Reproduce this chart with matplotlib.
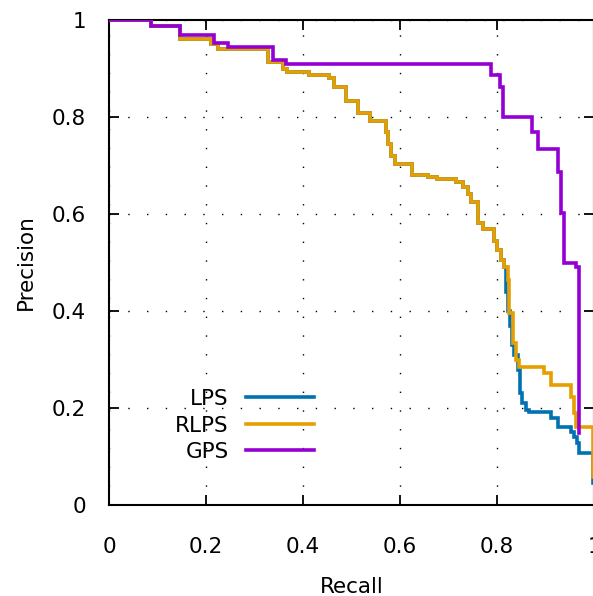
import matplotlib
matplotlib.use("Agg")
import matplotlib.pyplot as plt
from matplotlib.lines import Line2D

# precision/recall curves (step corners, steps-post)
lps_recall = [0, 0.087, 0.146, 0.210, 0.225, 0.327, 0.358, 0.368, 0.413, 0.454,
              0.464, 0.489, 0.513, 0.539, 0.571, 0.576, 0.582, 0.590, 0.625, 0.657,
              0.677, 0.715, 0.729, 0.740, 0.746, 0.760, 0.772, 0.794, 0.801, 0.808,
              0.815, 0.818, 0.822, 0.826, 0.830, 0.836, 0.843, 0.847, 0.852, 0.860,
              0.867, 0.911, 0.925, 0.953, 0.958, 0.964, 0.970, 0.997]
lps_precision = [1.0, 0.988, 0.960, 0.950, 0.940, 0.914, 0.900, 0.893, 0.887, 0.880,
                 0.861, 0.834, 0.809, 0.792, 0.770, 0.745, 0.720, 0.703, 0.680, 0.677,
                 0.673, 0.667, 0.656, 0.642, 0.625, 0.581, 0.570, 0.545, 0.526, 0.505,
                 0.490, 0.440, 0.400, 0.370, 0.330, 0.310, 0.278, 0.230, 0.210, 0.196,
                 0.192, 0.180, 0.161, 0.150, 0.140, 0.128, 0.107, 0.045]

rlps_recall = [0, 0.087, 0.146, 0.210, 0.225, 0.327, 0.358, 0.368, 0.413, 0.454,
               0.464, 0.489, 0.513, 0.539, 0.571, 0.576, 0.582, 0.590, 0.625, 0.657,
               0.677, 0.715, 0.729, 0.740, 0.746, 0.760, 0.772, 0.794, 0.801, 0.808,
               0.815, 0.822, 0.825, 0.832, 0.839, 0.846, 0.897, 0.911, 0.952, 0.958,
               0.963, 0.997]
rlps_precision = [1.0, 0.988, 0.960, 0.950, 0.940, 0.914, 0.900, 0.893, 0.887, 0.880,
                  0.861, 0.834, 0.809, 0.792, 0.770, 0.745, 0.720, 0.703, 0.680, 0.677,
                  0.673, 0.667, 0.656, 0.642, 0.625, 0.581, 0.570, 0.545, 0.526, 0.505,
                  0.490, 0.464, 0.396, 0.334, 0.299, 0.285, 0.272, 0.247, 0.223, 0.190,
                  0.161, 0.058]

gps_recall = [0, 0.087, 0.146, 0.217, 0.245, 0.338, 0.365, 0.788, 0.806, 0.813,
              0.873, 0.884, 0.925, 0.932, 0.939, 0.963, 0.970]
gps_precision = [1.0, 0.988, 0.969, 0.953, 0.945, 0.918, 0.909, 0.887, 0.862, 0.800,
                 0.770, 0.733, 0.687, 0.602, 0.499, 0.491, 0.148]

series_names = ["LPS", "RLPS", "GPS"]
series_colors = ["#0072b2", "#e69f00", "#9400d3"]
tick_values = [0, 0.2, 0.4, 0.6, 0.8, 1]
tick_labels = ["0", "0.2", "0.4", "0.6", "0.8", "1"]

FS = 15.5
LW = 2.6

fig = plt.figure(figsize=(5.93, 5.96), dpi=100)
ax = fig.add_axes([109 / 593, 91 / 596, 485 / 593, 485 / 596])

curves = [(lps_recall, lps_precision), (rlps_recall, rlps_precision),
          (gps_recall, gps_precision)]
for (r, p), name, col in zip(curves, series_names, series_colors):
    ax.plot(r, p, drawstyle="steps-post", color=col, lw=LW, label=name,
            solid_joinstyle="miter", zorder=3)

ax.set_xlim(0, 1)
ax.set_ylim(0, 1)
ax.set_xticks(tick_values)
ax.set_xticklabels(tick_labels)
ax.set_yticks(tick_values)
ax.set_yticklabels(tick_labels)

ax.grid(True, color="black", lw=1.0, linestyle=(0, (1.0, 12.5)), zorder=1)
ax.tick_params(direction="in", length=7, width=1.3, top=True, right=True,
               labelsize=FS, colors="black")
ax.tick_params(axis="x", pad=23)
ax.tick_params(axis="y", pad=16.5)
for s in ax.spines.values():
    s.set_linewidth(1.5)

fig.text(32.3 / 593, 1 - 262 / 596, "Precision", rotation=90, fontsize=FS,
         ha="center", va="baseline", rotation_mode="anchor")
fig.text(351.5 / 593, 1 - 593.3 / 596, "Recall", fontsize=FS,
         ha="center", va="baseline")

# legend drawn by hand: text right-aligned, key line to its right
leg_y = [0.223, 0.168, 0.113]
for name, col, y in zip(series_names, series_colors, leg_y):
    ax.text(0.247, y, name, transform=ax.transAxes, fontsize=FS,
            ha="right", va="center_baseline")
    ax.add_line(Line2D([0.282, 0.423], [y, y], transform=ax.transAxes,
                       color=col, lw=LW, zorder=4))

fig.savefig("out.png", dpi=100)
